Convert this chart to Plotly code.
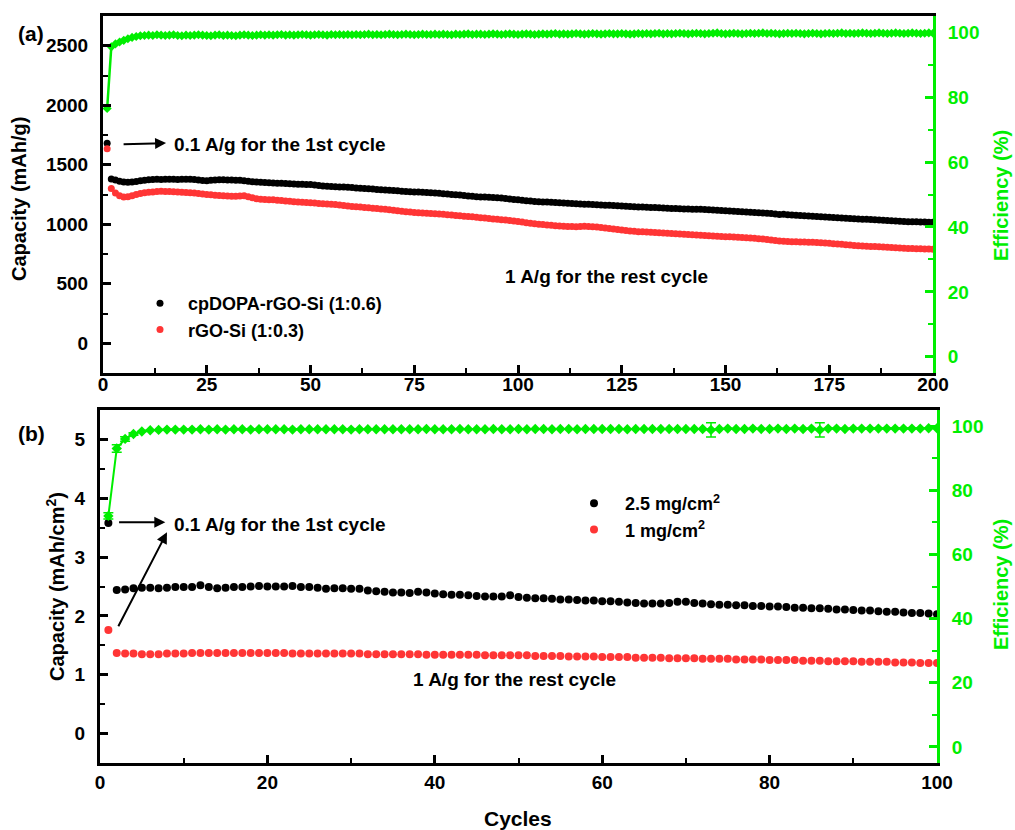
import plotly.graph_objects as go

# ---------------- data: (a) 200 cycles, mass-specific capacity ----------------
cycles_a = list(range(1, 201))

cap_cpdopa = [
    1680, 1380, 1372, 1362, 1355, 1352, 1355, 1360, 1365, 1370,
    1374, 1376, 1378, 1377, 1378, 1379, 1378, 1377, 1378, 1379,
    1378, 1376, 1372, 1368, 1366, 1370, 1372, 1374, 1373, 1372,
    1371, 1370, 1369, 1366, 1362, 1358, 1355, 1352, 1350, 1348,
    1346, 1345, 1344, 1342, 1340, 1338, 1337, 1336, 1335, 1334,
    1330, 1326, 1322, 1320, 1318, 1316, 1314, 1312, 1310, 1308,
    1305, 1302, 1300, 1298, 1296, 1293, 1290, 1288, 1285, 1283,
    1281, 1278, 1276, 1274, 1272, 1270, 1268, 1266, 1264, 1262,
    1260, 1257, 1254, 1251, 1248, 1245, 1242, 1238, 1235, 1232,
    1230, 1228, 1226, 1224, 1222, 1220, 1216, 1212, 1208, 1205,
    1201, 1198, 1195, 1192, 1190, 1188, 1186, 1184, 1182, 1180,
    1178, 1177, 1175, 1173, 1171, 1169, 1168, 1166, 1164, 1162,
    1160, 1159, 1157, 1155, 1153, 1152, 1150, 1148, 1146, 1145,
    1143, 1141, 1140, 1138, 1136, 1135, 1133, 1132, 1130, 1129,
    1128, 1127, 1126, 1125, 1123, 1121, 1119, 1117, 1115, 1113,
    1111, 1109, 1107, 1105, 1103, 1101, 1099, 1097, 1095, 1093,
    1091, 1086, 1082, 1085, 1080, 1077, 1075, 1073, 1071, 1069,
    1067, 1065, 1063, 1061, 1059, 1057, 1055, 1053, 1051, 1049,
    1047, 1045, 1043, 1041, 1039, 1037, 1035, 1033, 1031, 1029,
    1027, 1025, 1024, 1022, 1021, 1020, 1019, 1018, 1017, 1016,
]

cap_rgo = [
    1635, 1300, 1262, 1240, 1230, 1232, 1240, 1250, 1258, 1264,
    1268, 1272, 1275, 1277, 1276, 1275, 1273, 1271, 1268, 1266,
    1264, 1262, 1258, 1254, 1250, 1247, 1244, 1242, 1240, 1238,
    1236, 1235, 1238, 1240, 1232, 1222, 1214, 1210, 1208, 1206,
    1205, 1202, 1199, 1196, 1193, 1190, 1187, 1184, 1182, 1180,
    1178, 1175, 1172, 1170, 1168, 1165, 1162, 1158, 1154, 1150,
    1147, 1144, 1141, 1138, 1135, 1132, 1129, 1126, 1122, 1118,
    1114, 1110, 1106, 1102, 1099, 1096, 1094, 1092, 1090, 1088,
    1086, 1083, 1080, 1077, 1074, 1071, 1068, 1065, 1062, 1058,
    1055, 1052, 1048, 1045, 1042, 1038, 1035, 1032, 1028, 1024,
    1018, 1012, 1008, 1004, 1000, 997, 994, 991, 988, 985,
    983, 982, 981, 980, 982, 984, 982, 979, 976, 972,
    968, 964, 960, 956, 952, 948, 944, 941, 938, 936,
    934, 932, 930, 928, 926, 924, 922, 920, 918, 916,
    914, 912, 910, 908, 906, 904, 902, 900, 898, 896,
    894, 892, 890, 888, 886, 884, 882, 879, 876, 872,
    868, 864, 860, 857, 855, 853, 852, 851, 850, 849,
    848, 846, 844, 842, 840, 837, 834, 831, 828, 825,
    822, 820, 818, 816, 814, 812, 810, 808, 806, 804,
    802, 800, 798, 797, 796, 795, 794, 793, 792, 790,
]

eff_a = [
    76.5, 95.5, 96.4, 97.0, 97.5, 98.0, 98.4, 98.7, 98.9, 99.0,
    99.1, 99.0, 99.2, 99.1, 99.0, 99.1, 99.2, 99.0, 98.9, 99.1,
    99.0, 99.1, 99.2, 99.1, 99.0, 98.9, 99.1, 99.2, 99.0, 99.1,
    99.0, 98.9, 99.1, 99.2, 99.1, 99.0, 99.1, 99.2, 99.1, 99.2,
    99.1, 99.2, 99.3, 99.1, 99.2, 99.1, 99.2, 99.3, 99.2, 99.1,
    99.2, 99.3, 99.2, 99.1, 99.3, 99.2, 99.3, 99.2, 99.3, 99.2,
    99.3, 99.2, 99.3, 99.4, 99.2, 99.3, 99.2, 99.3, 99.4, 99.3,
    99.2, 99.3, 99.4, 99.3, 99.2, 99.3, 99.4, 99.3, 99.3, 99.4,
    99.3, 99.4, 99.3, 99.2, 99.4, 99.3, 99.4, 99.5, 99.3, 99.4,
    99.4, 99.3, 99.4, 99.5, 99.4, 99.3, 99.4, 99.5, 99.4, 99.3,
    99.4, 99.5, 99.4, 99.3, 99.4, 99.5, 99.4, 99.5, 99.6, 99.4,
    99.5, 99.4, 99.5, 99.6, 99.5, 99.4, 99.5, 99.6, 99.5, 99.4,
    99.5, 99.6, 99.5, 99.5, 99.6, 99.5, 99.4, 99.5, 99.6, 99.5,
    99.6, 99.5, 99.6, 99.7, 99.5, 99.6, 99.5, 99.6, 99.7, 99.6,
    99.5, 99.6, 99.7, 99.6, 99.5, 99.6, 99.7, 99.8, 99.6, 99.5,
    99.6, 99.7, 99.6, 99.5, 99.6, 99.7, 99.6, 99.7, 99.8, 99.6,
    99.7, 99.6, 99.5, 99.6, 99.7, 99.6, 99.7, 99.6, 99.5, 99.6,
    99.7, 99.6, 99.5, 99.6, 99.7, 99.6, 99.7, 99.8, 99.6, 99.7,
    99.6, 99.7, 99.8, 99.7, 99.6, 99.7, 99.8, 99.7, 99.6, 99.7,
    99.8, 99.7, 99.6, 99.7, 99.8, 99.7, 99.6, 99.7, 99.8, 99.7,
]

# ---------------- data: (b) 100 cycles, areal capacity ----------------
cycles_b = list(range(1, 101))

cap_25 = [
    3.58, 2.44, 2.45, 2.47, 2.48, 2.48, 2.47, 2.48, 2.49, 2.49,
    2.49, 2.52, 2.49, 2.47, 2.48, 2.49, 2.49, 2.50, 2.51, 2.50,
    2.50, 2.50, 2.51, 2.49, 2.49, 2.48, 2.46, 2.47, 2.47, 2.46,
    2.46, 2.43, 2.42, 2.41, 2.40, 2.40, 2.39, 2.41, 2.40, 2.38,
    2.37, 2.36, 2.36, 2.35, 2.34, 2.33, 2.33, 2.33, 2.35, 2.32,
    2.31, 2.30, 2.30, 2.29, 2.28, 2.28, 2.27, 2.26, 2.26, 2.25,
    2.25, 2.24, 2.23, 2.22, 2.21, 2.21, 2.21, 2.22, 2.24, 2.24,
    2.22, 2.21, 2.20, 2.19, 2.19, 2.18, 2.18, 2.17, 2.17, 2.16,
    2.16, 2.15, 2.14, 2.14, 2.13, 2.13, 2.12, 2.11, 2.11, 2.10,
    2.09, 2.09, 2.08, 2.07, 2.07, 2.06, 2.05, 2.05, 2.04, 2.03,
]

cap_1 = [
    1.76, 1.37, 1.36, 1.36, 1.35, 1.35, 1.35, 1.36, 1.36, 1.36,
    1.37, 1.37, 1.37, 1.37, 1.37, 1.37, 1.37, 1.37, 1.37, 1.37,
    1.37, 1.37, 1.36, 1.36, 1.36, 1.36, 1.36, 1.36, 1.36, 1.36,
    1.36, 1.35, 1.35, 1.35, 1.35, 1.35, 1.35, 1.35, 1.34, 1.34,
    1.34, 1.34, 1.34, 1.34, 1.34, 1.33, 1.33, 1.33, 1.33, 1.33,
    1.33, 1.32, 1.32, 1.32, 1.32, 1.31, 1.31, 1.31, 1.31, 1.30,
    1.30, 1.30, 1.30, 1.29, 1.29, 1.29, 1.29, 1.28, 1.28, 1.28,
    1.28, 1.27, 1.27, 1.27, 1.27, 1.26, 1.26, 1.26, 1.26, 1.25,
    1.25, 1.25, 1.25, 1.24, 1.24, 1.24, 1.23, 1.23, 1.23, 1.23,
    1.22, 1.22, 1.22, 1.22, 1.21, 1.21, 1.21, 1.20, 1.20, 1.20,
]

eff_b = [
    72.0, 93.0, 96.0, 97.5, 98.3, 98.7, 98.8, 98.9, 98.9, 98.9,
    98.9, 99.0, 98.9, 99.0, 98.9, 99.0, 99.0, 98.9, 99.0, 99.0,
    99.0, 99.0, 98.9, 99.0, 99.0, 99.0, 99.0, 99.0, 99.0, 98.9,
    99.0, 99.0, 99.0, 99.0, 99.0, 99.0, 99.0, 99.0, 99.1, 99.0,
    99.0, 99.0, 99.1, 99.0, 99.0, 99.0, 99.1, 99.0, 99.0, 99.1,
    99.0, 99.1, 99.1, 99.0, 99.1, 99.1, 99.0, 99.1, 99.1, 99.1,
    99.1, 99.1, 99.0, 99.1, 99.1, 99.1, 99.1, 99.1, 99.1, 99.1,
    99.1, 99.1, 98.8, 99.1, 99.2, 99.1, 99.1, 99.2, 99.1, 99.1,
    99.2, 99.1, 99.2, 99.1, 99.2, 98.8, 99.2, 99.2, 99.1, 99.2,
    99.2, 99.2, 99.2, 99.2, 99.2, 99.2, 99.2, 99.2, 99.3, 99.3,
]

eff_b_err = [
    1.0, 1.2, 0.7, 0.4, 0, 0, 0, 0, 0, 0,
    0, 0, 0, 0, 0, 0, 0, 0, 0, 0,
    0, 0, 0, 0, 0, 0, 0, 0, 0, 0,
    0, 0, 0, 0, 0, 0, 0, 0, 0, 0,
    0, 0, 0, 0, 0, 0, 0, 0, 0, 0,
    0, 0, 0, 0, 0, 0, 0, 0, 0, 0,
    0, 0, 0, 0, 0, 0, 0, 0, 0, 0,
    0, 0, 2.2, 0, 0, 0, 0, 0, 0, 0,
    0, 0, 0, 0, 0, 2.2, 0, 0, 0, 0,
    0, 0, 0, 0, 0, 0, 0, 0, 0, 0,
]

ticks_a_x = [0, 25, 50, 75, 100, 125, 150, 175, 200]
ticks_a_y = [0, 500, 1000, 1500, 2000, 2500]
ticks_b_x = [0, 20, 40, 60, 80, 100]
ticks_b_y = [0, 1, 2, 3, 4, 5]
ticks_eff = [0, 20, 40, 60, 80, 100]

# ---------------- styling ----------------
W, H = 1015, 830
GREEN = "#00ee00"
RED = "#ff3535"
BLACK = "#000000"
FONT = "Liberation Sans, Arial, sans-serif"


def px(x):
    return x / W


def py(y):
    return 1 - y / H


fig = go.Figure()

# (a) capacity series
fig.add_trace(go.Scatter(
    x=cycles_a, y=cap_cpdopa, mode="markers", name="cpDOPA-rGO-Si (1:0.6)",
    marker=dict(color=BLACK, size=7), xaxis="x", yaxis="y", legend="legend"))
fig.add_trace(go.Scatter(
    x=cycles_a, y=cap_rgo, mode="markers", name="rGO-Si (1:0.3)",
    marker=dict(color=RED, size=7), xaxis="x", yaxis="y", legend="legend"))
fig.add_trace(go.Scatter(
    x=cycles_a, y=eff_a, mode="lines+markers", showlegend=False,
    line=dict(color=GREEN, width=2.5), marker=dict(color=GREEN, size=7, symbol="diamond"),
    xaxis="x", yaxis="y2"))

# (b) areal capacity series
fig.add_trace(go.Scatter(
    x=cycles_b, y=cap_25, mode="markers", name="2.5 mg/cm<sup>2</sup>",
    marker=dict(color=BLACK, size=8), xaxis="x2", yaxis="y3", legend="legend2"))
fig.add_trace(go.Scatter(
    x=cycles_b, y=cap_1, mode="markers", name="1 mg/cm<sup>2</sup>",
    marker=dict(color=RED, size=8), xaxis="x2", yaxis="y3", legend="legend2"))
fig.add_trace(go.Scatter(
    x=cycles_b, y=eff_b, mode="lines+markers", showlegend=False,
    line=dict(color=GREEN, width=2), marker=dict(color=GREEN, size=8, symbol="diamond"),
    error_y=dict(type="data", array=eff_b_err, color=GREEN, thickness=1.5, width=5),
    xaxis="x2", yaxis="y4"))

tickfont = dict(family=FONT, size=19, color=BLACK, weight="bold")
greenfont = dict(family=FONT, size=19, color=GREEN, weight="bold")


def xaxis_style(domain, rng, tickvals, minor_dtick, anchor, standoff):
    return dict(
        domain=domain, range=rng, anchor=anchor, tickvals=tickvals,
        ticks="inside", ticklen=8, tickwidth=2.5, tickcolor=BLACK,
        showline=True, linecolor=BLACK, linewidth=3, mirror=True,
        showgrid=False, zeroline=False, tickfont=tickfont,
        ticklabelstandoff=standoff,
        minor=dict(ticks="inside", ticklen=5, tickwidth=2, tickcolor=BLACK,
                   dtick=minor_dtick, tick0=0, showgrid=False),
    )


def yaxis_style(domain, rng, tickvals, minor_dtick, anchor):
    return dict(
        domain=domain, range=rng, anchor=anchor, tickvals=tickvals,
        ticks="inside", ticklen=8, tickwidth=2.5, tickcolor=BLACK,
        showline=True, linecolor=BLACK, linewidth=3,
        showgrid=False, zeroline=False, tickfont=tickfont,
        ticklabelstandoff=8,
        minor=dict(ticks="inside", ticklen=5, tickwidth=2, tickcolor=BLACK,
                   dtick=minor_dtick, tick0=0, showgrid=False),
    )


def eff_axis(overlay, anchor):
    return dict(
        overlaying=overlay, side="right", anchor=anchor, range=[-5, 105],
        tickvals=ticks_eff, ticks="inside", ticklen=8, tickwidth=2.5, tickcolor=GREEN,
        showline=True, linecolor=GREEN, linewidth=3,
        showgrid=False, zeroline=False, tickfont=greenfont,
        ticklabelstandoff=8,
        minor=dict(ticks="inside", ticklen=5, tickwidth=2, tickcolor=GREEN,
                   dtick=10, tick0=0, showgrid=False),
    )


dom_ax = [px(103), px(933)]
dom_ay = [py(373), py(16)]
dom_bx = [px(100), px(937)]
dom_by = [py(763), py(410)]

legend_font = dict(family=FONT, size=18, color=BLACK, weight="bold")

fig.update_layout(
    width=W, height=H, autosize=False,
    margin=dict(l=0, r=0, t=0, b=0, autoexpand=False),
    paper_bgcolor="white", plot_bgcolor="white",
    font=dict(family=FONT, color=BLACK),
    xaxis=xaxis_style(dom_ax, [0, 200], ticks_a_x, 12.5, "y", -8),
    yaxis=yaxis_style(dom_ay, [-250, 2750], ticks_a_y, 250, "x"),
    yaxis2=eff_axis("y", "x"),
    xaxis2=xaxis_style(dom_bx, [0, 100], ticks_b_x, 10, "y3", 0),
    yaxis3=yaxis_style(dom_by, [-0.5, 5.5], ticks_b_y, 0.5, "x2"),
    yaxis4=eff_axis("y3", "x2"),
    legend=dict(x=px(132), y=py(285), xanchor="left", yanchor="top",
                bgcolor="rgba(0,0,0,0)", itemwidth=46, tracegroupgap=0,
                font=legend_font),
    legend2=dict(x=px(563), y=py(485), xanchor="left", yanchor="top",
                 bgcolor="rgba(0,0,0,0)", itemwidth=52, tracegroupgap=0,
                 font=legend_font),
)

bold = dict(family=FONT, size=19, color=BLACK, weight="bold")
gbold = dict(family=FONT, size=20, color=GREEN, weight="bold")
ann = []


def text(x, y, s, font=bold, xanchor="center", angle=0):
    ann.append(dict(x=px(x), y=py(y), xref="paper", yref="paper", text=s,
                    showarrow=False, font=font, xanchor=xanchor, yanchor="middle",
                    textangle=angle))


def arrow(xref, yref, x0, y0, x1, y1):
    ann.append(dict(x=x1, y=y1, ax=x0, ay=y0, xref=xref, yref=yref,
                    axref=xref, ayref=yref, text="", showarrow=True,
                    arrowhead=2, arrowsize=1.1, arrowwidth=2, arrowcolor=BLACK))


# panel labels and axis titles
text(31, 33, "(a)", dict(family=FONT, size=21, color=BLACK, weight="bold"))
text(31, 433, "(b)", dict(family=FONT, size=21, color=BLACK, weight="bold"))
text(19, 199, "Capacity (mAh/g)", dict(family=FONT, size=20, color=BLACK, weight="bold"), angle=-90)
text(55, 587, "Capacity (mAh/cm<sup>2</sup>)", dict(family=FONT, size=20, color=BLACK, weight="bold"), angle=-90)
text(1001, 196, "Efficiency (%)", gbold, angle=-90)
text(1001, 585, "Efficiency (%)", gbold, angle=-90)
text(518, 818, "Cycles", dict(family=FONT, size=21, color=BLACK, weight="bold"))

# current-density notes
text(172, 144, "0.1 A/g for the 1st cycle", xanchor="left")
text(606, 276, "1 A/g for the rest cycle")
text(172, 524, "0.1 A/g for the 1st cycle", xanchor="left")
text(514, 679, "1 A/g for the rest cycle")

arrow("x", "y", 4.6, 1672, 15.2, 1682)
arrow("x2", "y3", 2.1, 3.59, 7.8, 3.59)
arrow("x2", "y3", 2.1, 1.80, 8.0, 3.42)

fig.update_layout(annotations=ann)

# keep the page free of scrollbars so the figure keeps its full width
page_js = (
    "document.documentElement.style.margin='0';"
    "document.documentElement.style.overflow='hidden';"
    "document.body.style.margin='0';"
    "document.body.style.overflow='hidden';"
)

fig.write_html("out.html", config={"responsive": False}, post_script=page_js)
